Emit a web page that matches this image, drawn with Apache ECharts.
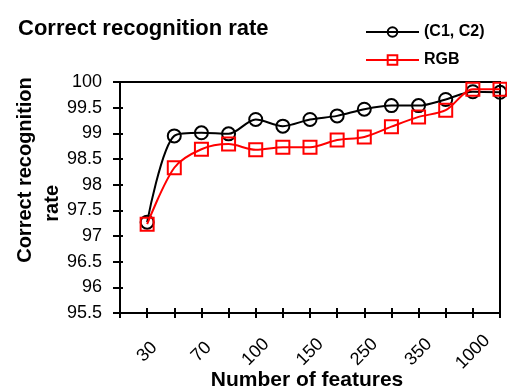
<!DOCTYPE html>
<html>
<head>
<meta charset="utf-8">
<script src="https://cdn.jsdelivr.net/npm/echarts@6/dist/echarts.min.js"></script>
<style>
html,body{margin:0;padding:0;background:#fff;}
#chart{width:507px;height:390px;}
</style>
</head>
<body>
<div id="chart"></div>
<script>
// Number of features (only every other one is labelled in the original)
const categories = ['30','50','70','80','100','120','150','200','250','300','350','500','1000','2000'];
const seriesC1C2 = [97.27, 98.95, 99.01, 98.99, 99.27, 99.14, 99.27, 99.34, 99.47, 99.54, 99.54, 99.66, 99.81, 99.80];
const seriesRGB  = [97.23, 98.33, 98.69, 98.79, 98.68, 98.73, 98.73, 98.87, 98.93, 99.13, 99.32, 99.45, 99.86, 99.86];
const yTicks = [95.5, 96, 96.5, 97, 97.5, 98, 98.5, 99, 99.5, 100];

const FONT = '"Liberation Sans", Arial, sans-serif';
const axisCats = [''].concat(categories);
const chart = echarts.init(document.getElementById('chart'), null, {renderer: 'canvas'});

const yMin = yTicks[0], yMax = yTicks[yTicks.length - 1], yStep = yTicks[1] - yTicks[0];

chart.setOption({
  animation: false,
  backgroundColor: '#fff',
  title: {
    text: 'Correct recognition rate',
    left: 13, top: 13,
    textStyle: {fontFamily: FONT, fontWeight: 'bold', fontSize: 22, color: '#000'}
  },
  legend: {
    orient: 'vertical',
    left: 360, top: 19,
    itemWidth: 53, itemHeight: 12,
    itemGap: 12,
    textStyle: {fontFamily: FONT, fontWeight: 'bold', fontSize: 16, color: '#000'},
    data: ['(C1, C2)', 'RGB']
  },
  grid: {
    left: 120, top: 82, right: 7, bottom: 77,
    outerBoundsMode: 'none',
    containLabel: false,
    show: true, borderColor: '#000', borderWidth: 2, backgroundColor: 'transparent'
  },
  xAxis: [{
    type: 'category',
    data: axisCats,
    boundaryGap: false,
    position: 'bottom',
    axisLine: {lineStyle: {color: '#000', width: 2}},
    axisTick: {show: true, interval: 0, length: 5, lineStyle: {color: '#000', width: 2}},
    axisLabel: {
      interval: function (i) { return i % 2 === 1; },
      rotate: 45, align: 'center', verticalAlign: 'middle', margin: 39,
      fontFamily: FONT, fontSize: 18, color: '#000'
    },
    splitLine: {show: false},
    name: 'Number of features',
    nameLocation: 'middle',
    nameMoveOverlap: false,
    nameGap: 57,
    nameTextStyle: {fontFamily: FONT, fontWeight: 'bold', fontSize: 21, color: '#000', verticalAlign: 'top', padding: [0,0,0,-6]}
  }, {
    type: 'category',
    data: axisCats,
    boundaryGap: false,
    position: 'bottom',
    axisLine: {show: false},
    axisTick: {show: true, inside: true, interval: 0, length: 5, lineStyle: {color: '#000', width: 2}},
    axisLabel: {show: false},
    splitLine: {show: false}
  }],
  yAxis: [{
    type: 'value',
    min: yMin, max: yMax, interval: yStep,
    position: 'left',
    axisLine: {show: true, lineStyle: {color: '#000', width: 2}},
    axisTick: {show: true, length: 7, lineStyle: {color: '#000', width: 2}},
    axisLabel: {
      margin: 18, fontFamily: FONT, fontSize: 18, color: '#000',
      formatter: function (v) { return String(Math.round(v * 10) / 10); }
    },
    splitLine: {show: false},
    name: 'Correct recognition\nrate            ',
    nameLocation: 'middle',
    nameMoveOverlap: false,
    nameGap: 54,
    nameTextStyle: {fontFamily: FONT, fontWeight: 'bold', fontSize: 20, lineHeight: 27, color: '#000', padding: [0,0,0,55]}
  }, {
    type: 'value',
    min: yMin, max: yMax, interval: yStep,
    position: 'left',
    axisLine: {show: false},
    axisTick: {show: true, inside: true, length: 3, lineStyle: {color: '#000', width: 2}},
    axisLabel: {show: false},
    splitLine: {show: false}
  }],
  series: [{
    name: '(C1, C2)',
    type: 'line',
    xAxisIndex: 0, yAxisIndex: 0,
    data: [null].concat(seriesC1C2),
    smooth: 0.3,
    symbol: 'circle', symbolSize: 13,
    itemStyle: {color: 'rgba(0,0,0,0)', borderColor: '#000', borderWidth: 2},
    lineStyle: {color: '#000', width: 2},
    z: 2
  }, {
    name: 'RGB',
    type: 'line',
    xAxisIndex: 0, yAxisIndex: 0,
    data: [null].concat(seriesRGB),
    smooth: 0.3,
    symbol: 'rect', symbolSize: 13,
    itemStyle: {color: 'rgba(0,0,0,0)', borderColor: '#ff0000', borderWidth: 2},
    lineStyle: {color: '#ff0000', width: 2},
    z: 3
  }]
});
</script>
</body>
</html>
